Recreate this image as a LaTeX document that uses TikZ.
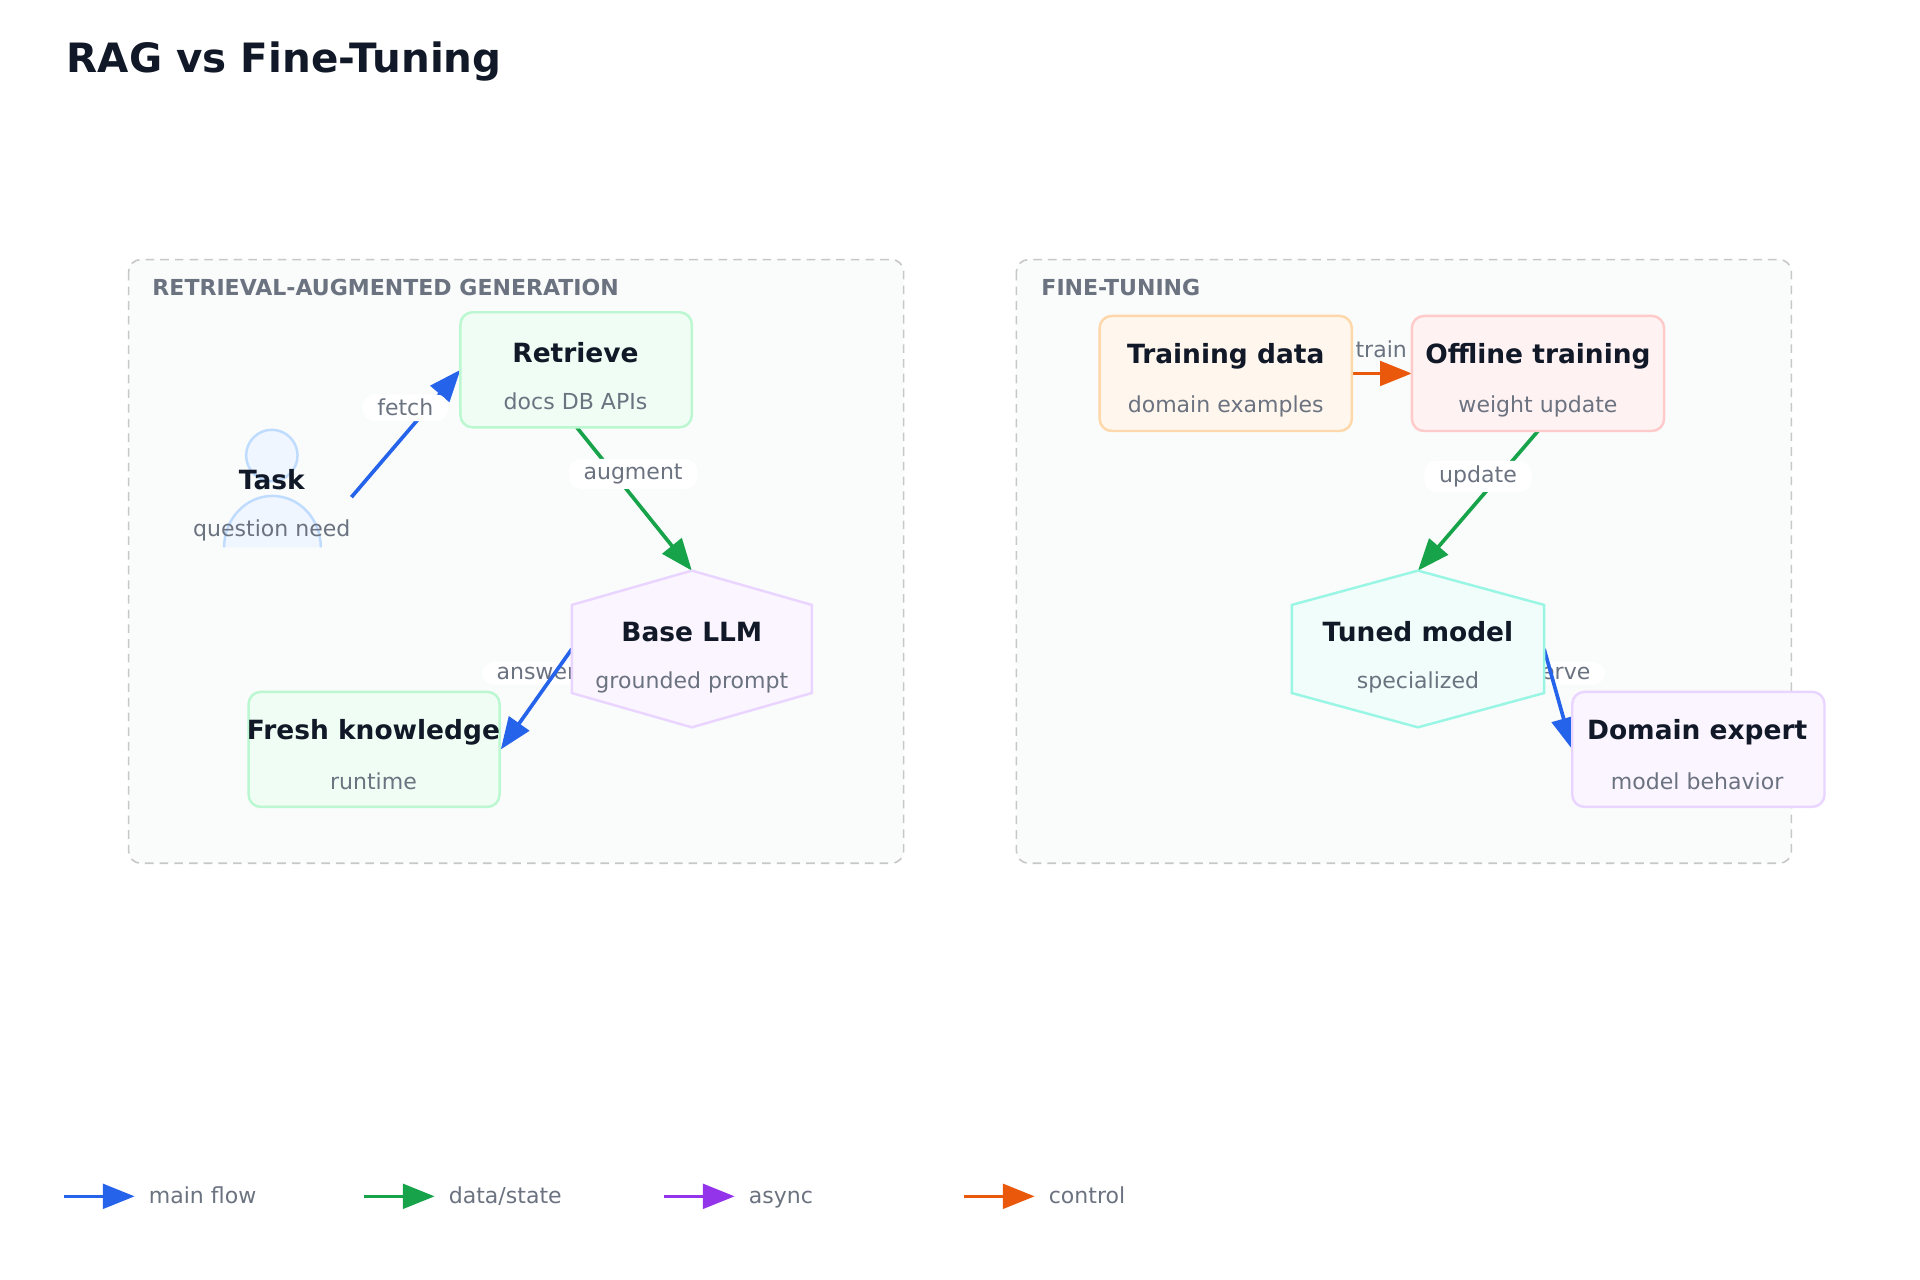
\documentclass[tikz,border=0pt]{standalone}
\usepackage{fontspec}
\setmainfont{DejaVu Sans}
\usetikzlibrary{arrows.meta}
\definecolor{ink}{HTML}{111827}
\definecolor{sub}{HTML}{6B7280}
\definecolor{cblue}{HTML}{2563EB}
\definecolor{cgreen}{HTML}{16A34A}
\definecolor{cpurple}{HTML}{9333EA}
\definecolor{corange}{HTML}{EA580C}
\definecolor{gfill}{HTML}{FAFCFB}
\tikzset{
  grp/.style={draw=black!22,dash pattern=on 7pt off 5pt,line width=1.3pt,fill=gfill,rounded corners=10pt},
  grplab/.style={anchor=west,font=\fontsize{18}{20}\selectfont\bfseries,text=sub},
  box/.style={rounded corners=10pt,line width=2pt},
  ttl/.style={font=\fontsize{21.6}{24}\selectfont\bfseries,text=ink},
  st/.style={font=\fontsize{18}{20}\selectfont,text=sub},
  edge/.style={line width=3pt,-{Triangle[length=26pt,width=20pt]}},
  elab/.style={fill=white,rounded corners=10pt,font=\fontsize{18}{20}\selectfont,text=sub,inner xsep=12pt,inner ysep=4pt},
}
\begin{document}
\begin{tikzpicture}[x=1pt,y=-1pt]
\useasboundingbox[fill=white] (0,0) rectangle (1568,1045.3);
\node[anchor=west,font=\fontsize{33}{36}\selectfont\bfseries,text=ink] (title) at (51,50) {RAG vs Fine-Tuning};
% groups
\draw[grp] (105,212) rectangle (738,705);
\node[grplab] (g1) at (121,235) {RETRIEVAL-AUGMENTED GENERATION};
\draw[grp] (830,212) rectangle (1463,705);
\node[grplab] (g2) at (847,235) {FINE-TUNING};
% coordinates
\coordinate (taskc) at (287,406);
\coordinate (retW) at (376,302);
\coordinate (retS) at (471,349);
\coordinate (llmN) at (565,466);
\coordinate (llmW) at (467,530);
\coordinate (freshE) at (409,612);
\coordinate (trainE) at (1104,305);
\coordinate (offW) at (1153,305);
\coordinate (offS) at (1256,352);
\coordinate (tunedN) at (1158,466);
\coordinate (tunedE) at (1261,530);
\coordinate (domW) at (1284,612);
% edge labels
\node[elab] (lans) at (438,550) {answer};
\node[elab,fill=none] (ltrain) at (1128,285) {train};
\node[elab] (lserve) at (1274,550) {serve};
% edges
\draw[edge,cblue] (taskc) -- (retW);
\draw[edge,cgreen] (retS) -- (llmN);
\draw[edge,cblue] (llmW) -- (freshE);
\draw[edge,corange] (trainE) -- (offW);
\draw[edge,cgreen] (offS) -- (tunedN);
\draw[edge,cblue] (tunedE) -- (domW);
\node[elab] (lfetch) at (331,333) {fetch};
\node[elab] (laug) at (517,387) {augment};
\node[elab] (lupd) at (1207,389) {update};
% task person
\draw[fill={rgb,255:red,239;green,246;blue,255},draw={rgb,255:red,191;green,219;blue,254},line width=2pt] (222,372) circle (21);
\draw[fill={rgb,255:red,239;green,246;blue,255},draw={rgb,255:red,191;green,219;blue,254},line width=2pt] (183,447) arc[start angle=180,end angle=0,x radius=39.5,y radius=-42];
\node[ttl] (task) at (222,392) {Task};
\node[st] (tasks) at (222,433) {question need};
% nodes
\draw[box,fill={rgb,255:red,240;green,253;blue,244},draw={rgb,255:red,187;green,247;blue,208}] (376,255) rectangle (565,349);
\node[ttl] (rt) at (470,288) {Retrieve};
\node[st] (rs) at (470,328) {docs DB APIs};
\draw[line width=2pt,fill={rgb,255:red,250;green,245;blue,255},draw={rgb,255:red,233;green,213;blue,255}] (565,466)--(663,494)--(663,566)--(565,594)--(467,566)--(467,494)--cycle;
\node[ttl] (lt) at (565,516) {Base LLM};
\node[st] (ls) at (565,557) {grounded prompt};
\draw[box,fill={rgb,255:red,240;green,253;blue,244},draw={rgb,255:red,187;green,247;blue,208}] (203,565) rectangle (408,659);
\node[ttl] (ft) at (305,598) {Fresh knowledge};
\node[st] (fs) at (305,638) {runtime};
\draw[box,fill={rgb,255:red,255;green,247;blue,237},draw={rgb,255:red,254;green,215;blue,170}] (898,258) rectangle (1104,352);
\node[ttl] (tdt) at (1001,291) {Training data};
\node[st] (tds) at (1001,332) {domain examples};
\draw[box,fill={rgb,255:red,254;green,242;blue,242},draw={rgb,255:red,254;green,202;blue,202}] (1153,258) rectangle (1359,352);
\node[ttl] (ot) at (1256,291) {Offline training};
\node[st] (os) at (1256,332) {weight update};
\draw[line width=2pt,fill={rgb,255:red,240;green,253;blue,250},draw={rgb,255:red,153;green,246;blue,228}] (1158,466)--(1261,494)--(1261,566)--(1158,594)--(1055,566)--(1055,494)--cycle;
\node[ttl] (tt) at (1158,516) {Tuned model};
\node[st] (ts) at (1158,557) {specialized};
\draw[box,fill={rgb,255:red,250;green,245;blue,255},draw={rgb,255:red,233;green,213;blue,255}] (1284,565) rectangle (1490,659);
\node[ttl] (dt) at (1386,598) {Domain expert};
\node[st] (ds) at (1386,638) {model behavior};
% legend
\foreach \x/\c/\t/\n in {52/cblue/main flow/a,297/cgreen/data\slash state/b,542/cpurple/async/c,787/corange/control/d}{
  \coordinate (leg\n) at (\x,977);
  \coordinate (legE\n) at (\x+58,977);
  \draw[edge,\c] (leg\n) -- (legE\n);
  \node[st,anchor=base west] (legt\n) at (\x+66,983) {\t};
}
\end{tikzpicture}
\end{document}
